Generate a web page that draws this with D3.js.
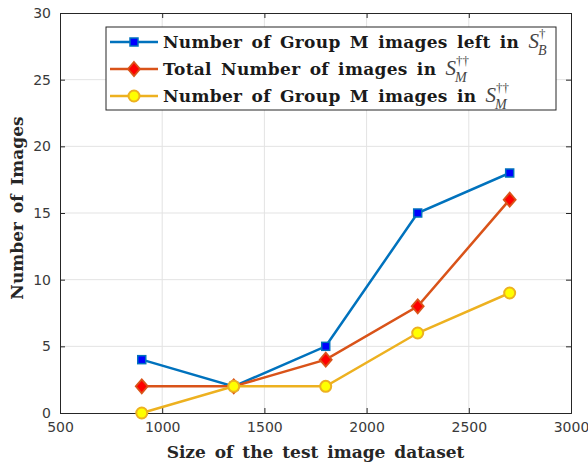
<!DOCTYPE html>
<html>
<head>
<meta charset="utf-8">
<script src="https://cdn.jsdelivr.net/npm/d3@7"></script>
<style>
  body { margin: 0; background: #fff; }
  svg { display: block; }
</style>
</head>
<body>
<div id="chart"></div>
<script>
// --- data ---
const datasetSizes = [900, 1350, 1800, 2250, 2700];
const leftInSB = [4, 2, 5, 15, 18];
const totalInSM = [2, 2, 4, 8, 16];
const groupMInSM = [0, 2, 2, 6, 9];
const xTicks = [500, 1000, 1500, 2000, 2500, 3000];
const yTicks = [0, 5, 10, 15, 20, 25, 30];

const W = 588, H = 466;
const margin = { top: 13, right: 17, bottom: 53, left: 60 };
const width = W - margin.left - margin.right;
const height = H - margin.top - margin.bottom;

const svg = d3.select('#chart').append('svg')
  .attr('width', W)
  .attr('height', H);

const g = svg.append('g')
  .attr('transform', `translate(${margin.left},${margin.top})`);

const x = d3.scaleLinear().domain([500, 3000]).range([0, width]);
const y = d3.scaleLinear().domain([0, 30]).range([height, 0]);

// --- grid ---
g.append('g')
  .selectAll('line')
  .data(xTicks.slice(1, -1))
  .enter().append('line')
  .attr('x1', d => x(d)).attr('x2', d => x(d))
  .attr('y1', 0).attr('y2', height)
  .attr('stroke', '#e3e3e3').attr('stroke-width', 1);

g.append('g')
  .selectAll('line')
  .data(yTicks.slice(1, -1))
  .enter().append('line')
  .attr('x1', 0).attr('x2', width)
  .attr('y1', d => y(d)).attr('y2', d => y(d))
  .attr('stroke', '#e3e3e3').attr('stroke-width', 1);

// --- axes ---
const axisColor = '#262626';
const xAxis = g.append('g')
  .attr('transform', `translate(0,${height})`)
  .call(d3.axisBottom(x).tickValues(xTicks).tickSize(-5).tickPadding(9).tickFormat(d3.format('d')));
const yAxis = g.append('g')
  .call(d3.axisLeft(y).tickValues(yTicks).tickSize(-5).tickPadding(9));
const xTop = g.append('g')
  .call(d3.axisTop(x).tickValues(xTicks).tickSize(-5).tickFormat(''));
const yRight = g.append('g')
  .attr('transform', `translate(${width},0)`)
  .call(d3.axisRight(y).tickValues(yTicks).tickSize(-5).tickFormat(''));

[xAxis, yAxis, xTop, yRight].forEach(a => {
  a.selectAll('path, line').attr('stroke', axisColor).attr('stroke-width', 1);
  a.selectAll('text')
    .attr('fill', '#3a3a3a')
    .style('font-family', 'DejaVu Sans, sans-serif')
    .style('font-size', '14px');
});

// --- lines and markers ---
const series = [
  { values: leftInSB, color: '#0072BD', fill: '#0000FF', marker: 'square' },
  { values: totalInSM, color: '#D95319', fill: '#FF0000', marker: 'diamond' },
  { values: groupMInSM, color: '#EDB120', fill: '#FFFF00', marker: 'circle' }
];

function drawMarker(sel, s) {
  if (s.marker === 'square') {
    sel.append('rect')
      .attr('x', -4).attr('y', -4).attr('width', 8).attr('height', 8)
      .attr('fill', s.fill).attr('stroke', s.color).attr('stroke-width', 1.5);
  } else if (s.marker === 'diamond') {
    sel.append('path')
      .attr('d', 'M0,-7L6,0L0,7L-6,0Z')
      .attr('fill', s.fill).attr('stroke', s.color).attr('stroke-width', 1.8);
  } else {
    sel.append('circle')
      .attr('r', 5.5)
      .attr('fill', s.fill).attr('stroke', s.color).attr('stroke-width', 2);
  }
}

const line = d3.line()
  .x((d, i) => x(datasetSizes[i]))
  .y(d => y(d));

series.forEach(s => {
  g.append('path')
    .datum(s.values)
    .attr('fill', 'none')
    .attr('stroke', s.color)
    .attr('stroke-width', 2.5)
    .attr('d', line);
  g.selectAll(null)
    .data(s.values)
    .enter().append('g')
    .attr('transform', (d, i) => `translate(${x(datasetSizes[i])},${y(d)})`)
    .each(function () { drawMarker(d3.select(this), s); });
});

// --- legend ---
const legendItems = [
  { label: 'Number of Group M images left in ', sub: 'B', sup: '†' },
  { label: 'Total Number of images in ', sub: 'M', sup: '††' },
  { label: 'Number of Group M images in ', sub: 'M', sup: '††' }
];
const legend = svg.append('g').attr('transform', 'translate(106,27)');
legend.append('rect')
  .attr('width', 450).attr('height', 83)
  .attr('fill', '#fff').attr('stroke', '#262626').attr('stroke-width', 1);

legendItems.forEach((item, i) => {
  const s = series[i];
  const row = legend.append('g').attr('transform', `translate(0,${15 + i * 27})`);
  row.append('line')
    .attr('x1', 4).attr('x2', 52).attr('y1', 0).attr('y2', 0)
    .attr('stroke', s.color).attr('stroke-width', 2.5);
  const m = row.append('g').attr('transform', 'translate(28,0)');
  drawMarker(m, s);
  const t = row.append('text')
    .attr('x', 57).attr('y', 6)
    .attr('fill', '#1a1a1a')
    .style('font-family', 'DejaVu Serif, serif')
    .style('font-weight', 'bold')
    .style('font-size', '17px')
    .style('word-spacing', '3px')
    .style('letter-spacing', '0.3px');
  t.append('tspan').text(item.label);
  t.append('tspan')
    .style('font-family', 'Liberation Serif, serif')
    .style('font-weight', 'normal')
    .style('font-style', 'italic')
    .style('font-size', '21px')
    .style('letter-spacing', '0px')
    .attr('fill', '#444')
    .text('S');
  const subX = t.node().getComputedTextLength() + 57;
  row.append('text')
    .attr('x', subX - 1).attr('y', 13)
    .attr('fill', '#444')
    .style('font-family', 'Liberation Serif, serif')
    .style('font-style', 'italic')
    .style('font-size', '14px')
    .text(item.sub);
  row.append('text')
    .attr('x', subX).attr('y', -4)
    .attr('fill', '#444')
    .style('font-family', 'Liberation Serif, serif')
    .style('font-size', '13px')
    .text(item.sup);
});

// --- axis titles ---
svg.append('text')
  .attr('x', margin.left + width / 2)
  .attr('y', 458)
  .attr('text-anchor', 'middle')
  .attr('fill', '#262626')
  .style('font-family', 'DejaVu Serif, serif')
  .style('font-weight', 'bold')
  .style('font-size', '17px')
  .style('word-spacing', '3px')
  .text('Size of the test image dataset');

svg.append('text')
  .attr('transform', `translate(23,208) rotate(-90)`)
  .attr('text-anchor', 'middle')
  .attr('fill', '#262626')
  .style('font-family', 'DejaVu Serif, serif')
  .style('font-weight', 'bold')
  .style('font-size', '17px')
  .style('word-spacing', '3px')
  .text('Number of Images');
</script>
</body>
</html>
